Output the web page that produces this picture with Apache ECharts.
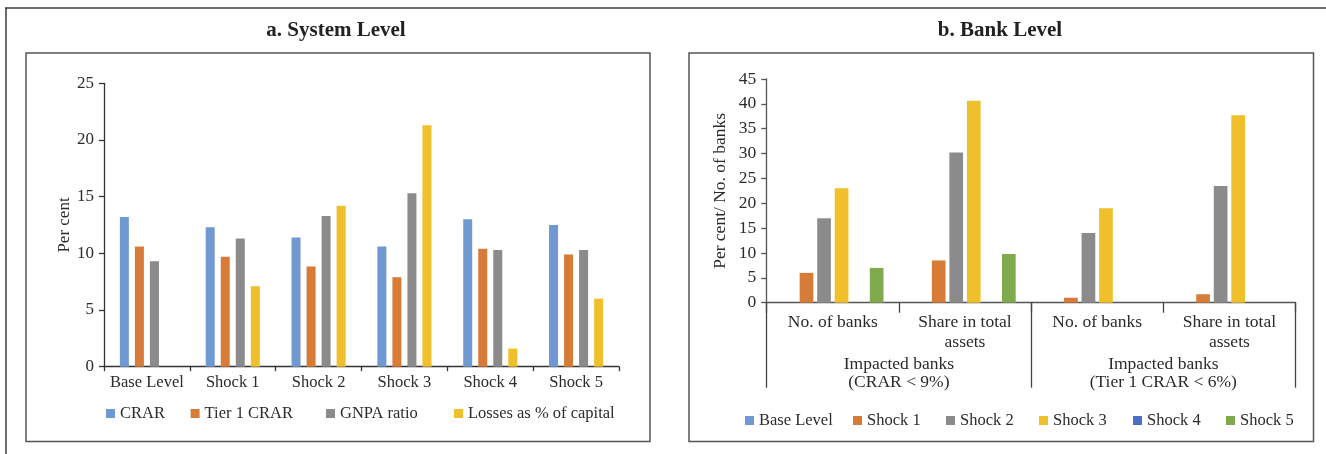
<!DOCTYPE html>
<html>
<head>
<meta charset="utf-8">
<script src="https://cdn.jsdelivr.net/npm/echarts@6/dist/echarts.min.js"></script>
<style>html,body{margin:0;padding:0;background:#fff;}#c{width:1326px;height:454px;}</style>
</head>
<body>
<div id="c"></div>
<script>
// ---- Data: panel a (System Level) ----
var sysCategories = ['Base Level', 'Shock 1', 'Shock 2', 'Shock 3', 'Shock 4', 'Shock 5'];
var sysSeriesNames = ['CRAR', 'Tier 1 CRAR', 'GNPA ratio', 'Losses as % of capital'];
var sysCRAR   = [13.2, 12.3, 11.4, 10.6, 13.0, 12.5];
var sysTier1  = [10.6, 9.7, 8.85, 7.9, 10.4, 9.9];
var sysGNPA   = [9.3, 11.3, 13.3, 15.3, 10.3, 10.3];
var sysLosses = [null, 7.1, 14.2, 21.3, 1.6, 6.0];
var sysYTicks = [0, 5, 10, 15, 20, 25];

// ---- Data: panel b (Bank Level) ----
var bankCategories = ['No. of banks', 'Share in total\nassets', 'No. of banks', 'Share in total\nassets'];
var bankGroups = ['Impacted banks\n(CRAR < 9%)', 'Impacted banks\n(Tier 1 CRAR < 6%)'];
var bankSeriesNames = ['Base Level', 'Shock 1', 'Shock 2', 'Shock 3', 'Shock 4', 'Shock 5'];
var bankBase   = [null, null, null, null];
var bankShock1 = [6, 8.5, 1, 1.7];
var bankShock2 = [17, 30.2, 14, 23.5];
var bankShock3 = [23, 40.6, 19, 37.7];
var bankShock4 = [null, null, null, null];
var bankShock5 = [7, 9.8, null, null];
var bankYTicks = [0, 5, 10, 15, 20, 25, 30, 35, 40, 45];

var C_BLUE = '#7099D1', C_ORANGE = '#D77B38', C_GREY = '#8B8B8B', C_YELLOW = '#EFBF2C', C_DBLUE = '#4A70C5', C_GREEN = '#80AA4D';
var FONT = 'Liberation Serif';
var TXT = '#2b2b2b';

var sysData = [sysCRAR, sysTier1, sysGNPA, sysLosses];
var sysColors = [C_BLUE, C_ORANGE, C_GREY, C_YELLOW];
var bankData = [bankBase, bankShock1, bankShock2, bankShock3, bankShock4, bankShock5];
var bankColors = [C_BLUE, C_ORANGE, C_GREY, C_YELLOW, C_DBLUE, C_GREEN];

var series = [];
sysSeriesNames.forEach(function (n, i) {
  series.push({
    name: n, type: 'bar', xAxisIndex: 0, yAxisIndex: 0,
    data: sysData[i], barWidth: 9, barGap: '67%',
    itemStyle: { color: sysColors[i] }, silent: true
  });
});
bankSeriesNames.forEach(function (n, i) {
  series.push({
    name: n, type: 'bar', xAxisIndex: 1, yAxisIndex: 1,
    data: bankData[i], barWidth: 13.7, barGap: '28%',
    itemStyle: { color: bankColors[i] }, silent: true
  });
});

function legendItem(name, left, top, color) {
  return {
    data: [{ name: name, itemStyle: { color: color } }],
    left: left, top: top, orient: 'horizontal',
    itemWidth: 9, itemHeight: 9, icon: 'rect', selectedMode: false,
    textStyle: { fontFamily: FONT, fontSize: 16.5, color: TXT }
  };
}
var legends = [];
var sysLegLeft = [101, 185.6, 321, 449];
sysSeriesNames.forEach(function (n, i) { legends.push(legendItem(n, sysLegLeft[i], 400, sysColors[i])); });
var bankLegLeft = [740, 848, 941, 1034, 1128, 1221];
bankSeriesNames.forEach(function (n, i) { legends.push(legendItem(n, bankLegLeft[i], 407, bankColors[i])); });

var option = {
  animation: false,
  backgroundColor: '#fff',
  legend: legends,
  graphic: [
    { type: 'line', shape: { x1: 5, y1: 8, x2: 1326, y2: 8 }, style: { stroke: '#3c3c3c', lineWidth: 1.5 }, silent: true },
    { type: 'line', shape: { x1: 6, y1: 8, x2: 6, y2: 454 }, style: { stroke: '#3c3c3c', lineWidth: 1.5 }, silent: true },
    { type: 'rect', shape: { x: 26, y: 53, width: 624, height: 388.5 }, style: { fill: 'none', stroke: '#555', lineWidth: 1.5 }, silent: true },
    { type: 'rect', shape: { x: 689, y: 53, width: 624.5, height: 388.5 }, style: { fill: 'none', stroke: '#555', lineWidth: 1.5 }, silent: true },
    { type: 'text', x: 336, y: 31, style: { text: 'a. System Level', font: 'bold 21px "Liberation Serif"', fill: '#222', align: 'center', verticalAlign: 'middle' }, silent: true },
    { type: 'text', x: 1000, y: 31, style: { text: 'b. Bank Level', font: 'bold 21px "Liberation Serif"', fill: '#222', align: 'center', verticalAlign: 'middle' }, silent: true }
  ],
  grid: [
    { left: 104, top: 83.3, width: 515, height: 283.4 },
    { left: 766.7, top: 79, width: 528.8, height: 223.7 }
  ],
  xAxis: [
    {
      gridIndex: 0, type: 'category', data: sysCategories,
      axisLine: { lineStyle: { color: '#333', width: 1.3 } },
      axisTick: { show: true, length: 4.5, lineStyle: { color: '#333', width: 1.3 } },
      axisLabel: { fontFamily: FONT, fontSize: 16.5, color: TXT, margin: 6.5, lineHeight: 18, interval: 0 }
    },
    {
      gridIndex: 1, type: 'category', data: bankCategories,
      axisLine: { lineStyle: { color: '#555', width: 1.3 } },
      axisTick: { show: true, length: 10, lineStyle: { color: '#444', width: 1.3 } },
      axisLabel: { fontFamily: FONT, fontSize: 17.5, color: TXT, margin: 10, lineHeight: 20, interval: 0 }
    },
    {
      gridIndex: 1, type: 'category', data: bankGroups, position: 'bottom',
      axisLine: { show: false },
      axisTick: { show: true, length: 85, lineStyle: { color: '#444', width: 1.3 } },
      axisLabel: { fontFamily: FONT, fontSize: 17.5, color: TXT, margin: 53, lineHeight: 18, interval: 0 }
    }
  ],
  yAxis: [
    {
      gridIndex: 0, type: 'value', min: sysYTicks[0], max: sysYTicks[sysYTicks.length - 1], interval: 5,
      name: 'Per cent', nameLocation: 'middle', nameGap: 31,
      nameTextStyle: { fontFamily: FONT, fontSize: 17, color: TXT },
      axisLine: { show: true, lineStyle: { color: '#333', width: 1.3 } },
      axisTick: { show: true, length: 5, lineStyle: { color: '#333', width: 1.3 } },
      splitLine: { show: false },
      axisLabel: { fontFamily: FONT, fontSize: 17, color: TXT, margin: 10 }
    },
    {
      gridIndex: 1, type: 'value', min: bankYTicks[0], max: bankYTicks[bankYTicks.length - 1], interval: 5,
      name: 'Per cent/ No. of banks', nameLocation: 'middle', nameGap: 37,
      nameTextStyle: { fontFamily: FONT, fontSize: 17.5, color: TXT },
      axisLine: { show: true, lineStyle: { color: '#555', width: 1.3 } },
      axisTick: { show: true, length: 5.5, lineStyle: { color: '#555', width: 1.3 } },
      splitLine: { show: false },
      axisLabel: { fontFamily: FONT, fontSize: 17.5, color: TXT, margin: 10.5 }
    }
  ],
  series: series
};

var chart = echarts.init(document.getElementById('c'), null, { renderer: 'canvas' });
chart.setOption(option);
</script>
</body>
</html>
